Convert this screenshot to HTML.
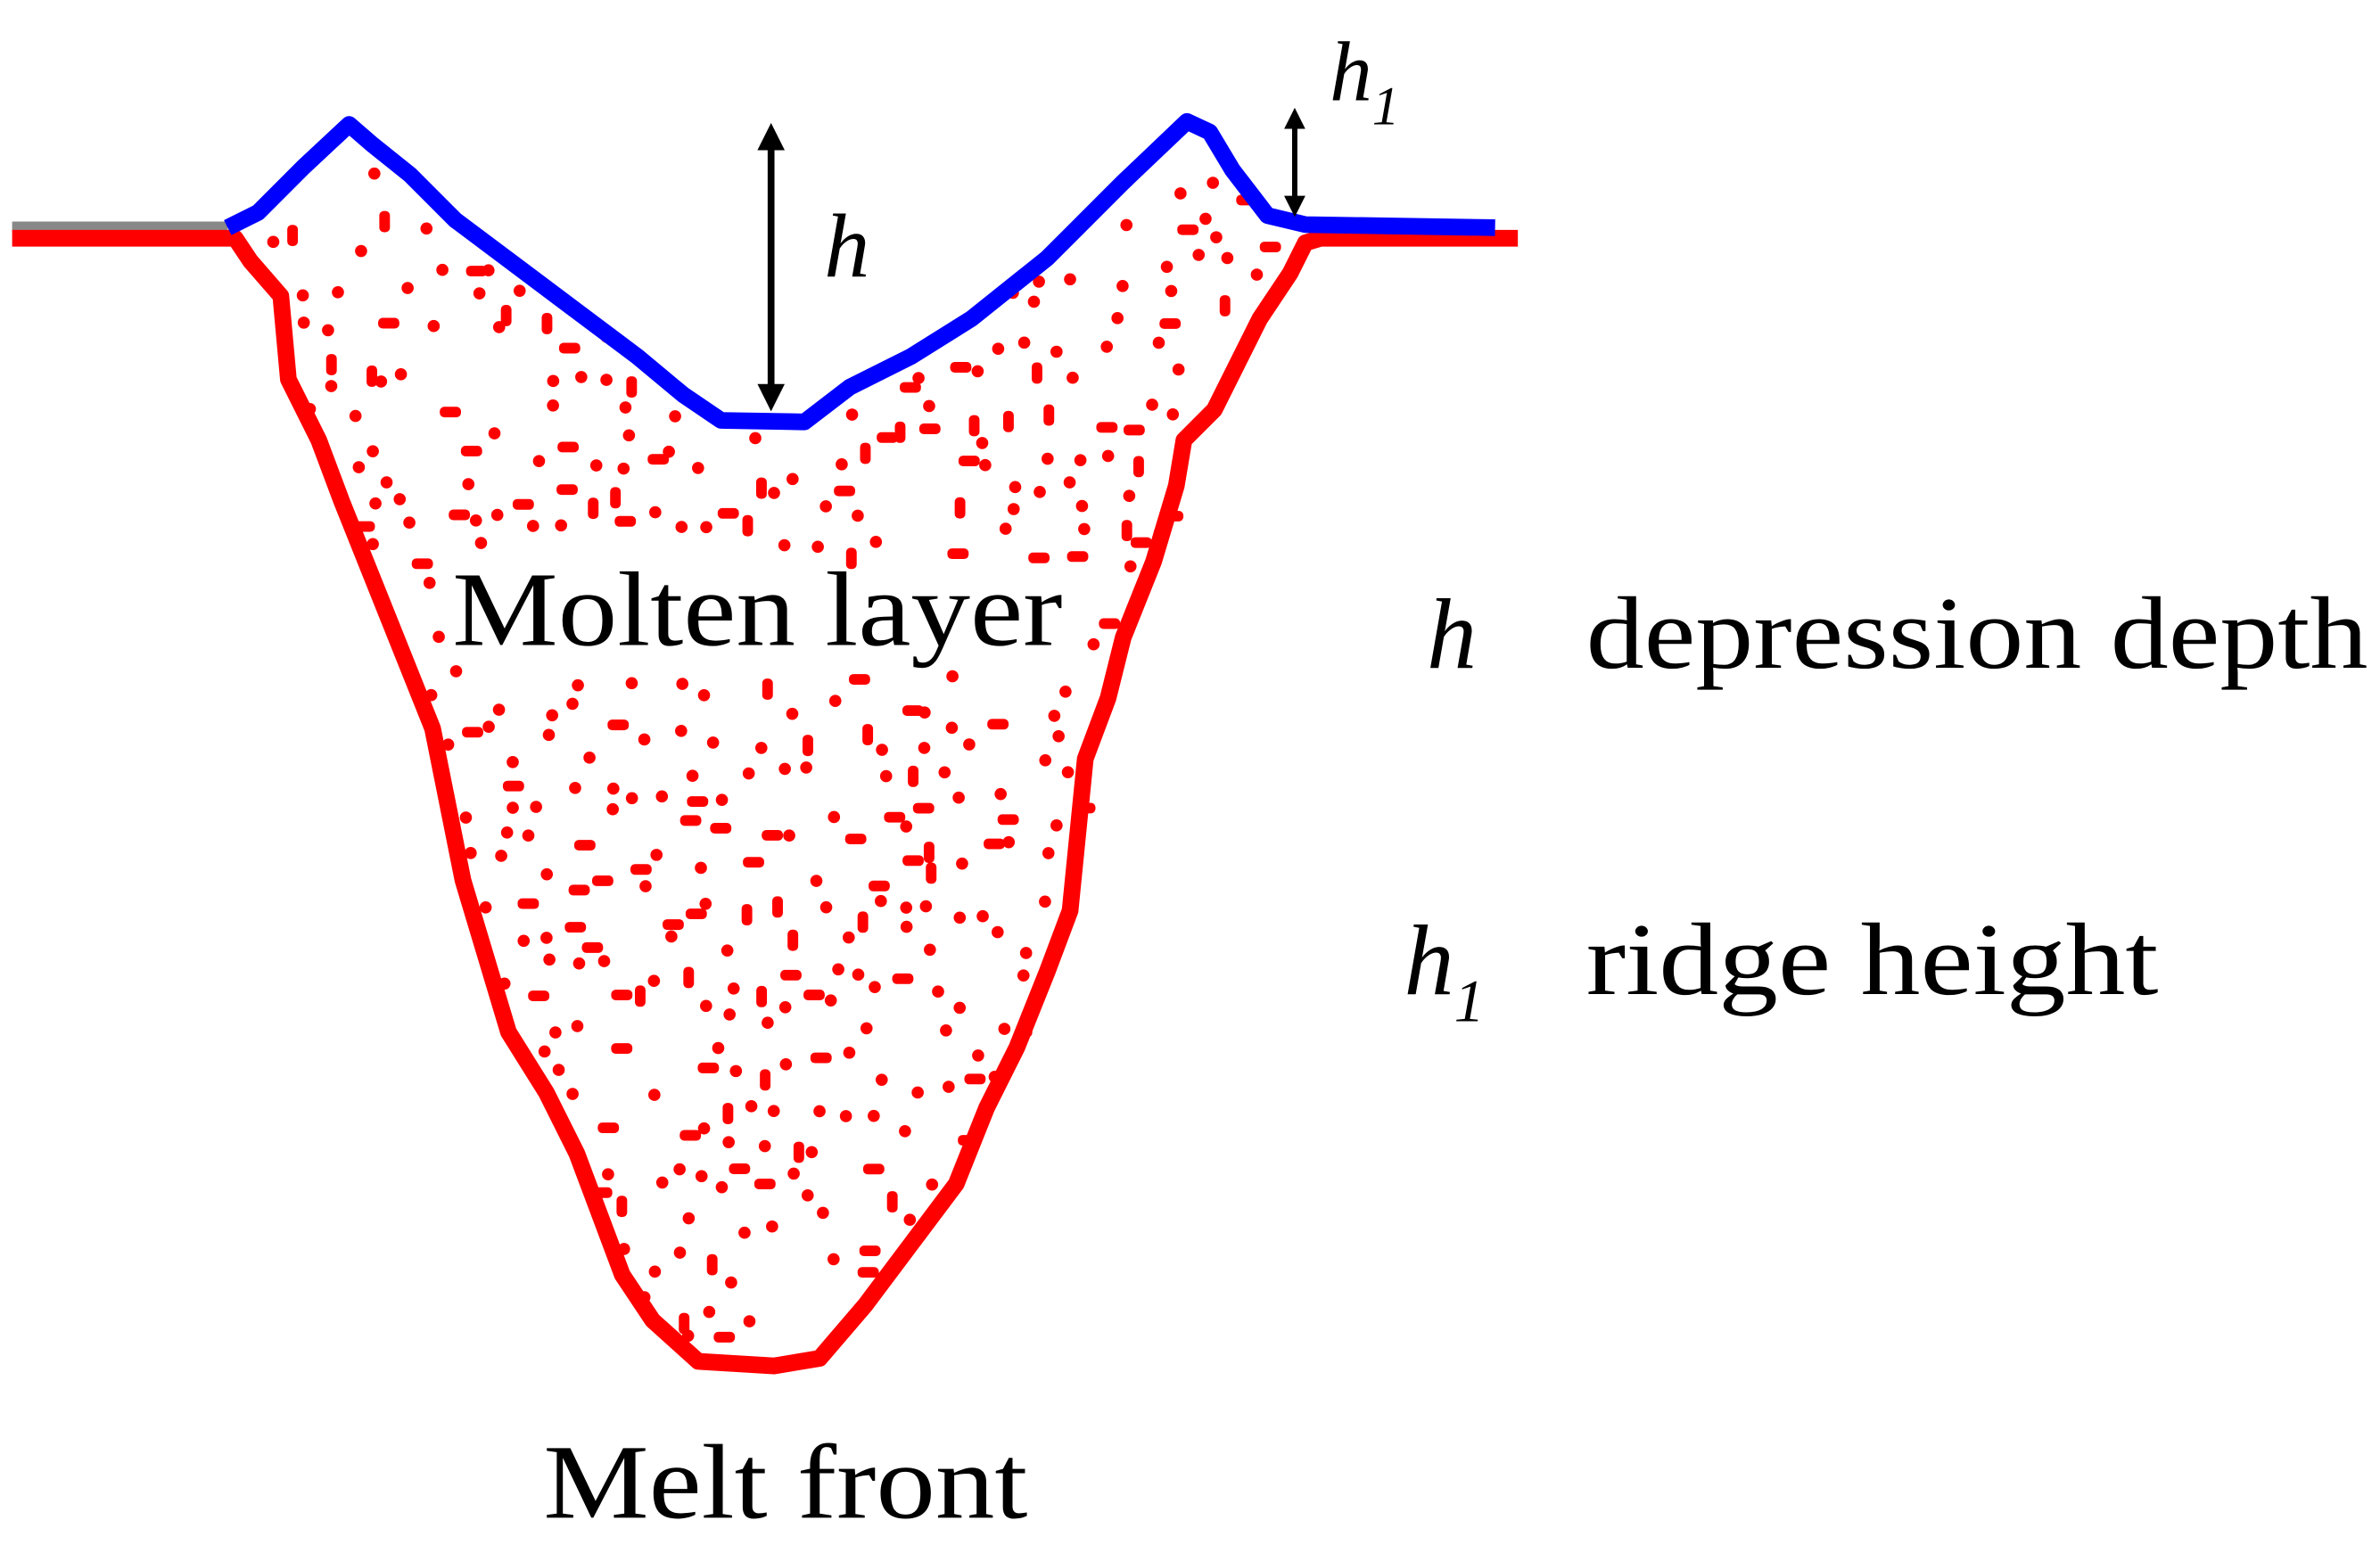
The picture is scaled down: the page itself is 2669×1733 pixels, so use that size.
<!DOCTYPE html>
<html><head><meta charset="utf-8">
<style>
html,body{margin:0;padding:0;background:#fff;}
svg{display:block;}
text{font-family:"Liberation Serif",serif;fill:#000;}
</style></head>
<body>
<svg id="s" width="2669" height="1733" viewBox="0 0 1568 1018" preserveAspectRatio="none" xmlns="http://www.w3.org/2000/svg">
<defs>
<marker id="a" viewBox="0 0 10 10" refX="5" refY="5" markerWidth="4" markerHeight="4" orient="auto-start-reverse"><path d="M0,0 L10,5 L0,10 z" fill="#000"/></marker>
</defs>
<line x1="8" y1="149" x2="150" y2="149" stroke="#888" stroke-width="6"/>
<g id="dots" fill="#ff0000"></g>
<polyline id="red" fill="none" stroke="#ff0000" stroke-width="11" stroke-linejoin="round"
points="8,157 155,157 165,172 185,195 190,250 210,290 225,330 245,380 265,430 285,480 295,530 305,580 320,630 335,680 360,720 380,760 395,800 410,840 430,870 460,897 510,900 540,895 570,860 600,820 630,780 650,730 670,690 690,640 705,600 710,550 715,500 730,460 740,420 760,370 775,320 780,290 800,270 815,240 830,210 850,180 860,160 870,157 1000,157"/>
<polyline fill="none" stroke="#0000ff" stroke-width="11" stroke-linejoin="round"
points="150,150 170,140 200,110 230,82 245,95 270,115 300,145 340,175 380,205 420,235 450,260 475,277 530,278 560,255 600,235 640,210 690,170 740,120 782,80 797,87 812,112 835,142 860,148 985,150"/>
<line x1="508" y1="90" x2="508" y2="262" stroke="#000" stroke-width="4.5" marker-start="url(#a)" marker-end="url(#a)"/>
<line x1="853" y1="78" x2="853" y2="136" stroke="#000" stroke-width="3.5" marker-start="url(#a)" marker-end="url(#a)"/>
<text x="543" y="182" font-size="60" font-style="italic">h</text>
<text x="876" y="66" font-size="56" font-style="italic">h<tspan font-size="36" dy="16">1</tspan></text>
<text x="298" y="425" font-size="70" textLength="402" lengthAdjust="spacingAndGlyphs">Molten layer</text>
<text x="358" y="1000" font-size="70" textLength="319" lengthAdjust="spacingAndGlyphs">Melt front</text>
<text x="940" y="440" font-size="66" font-style="italic">h</text>
<text x="1045" y="440" font-size="68" textLength="515" lengthAdjust="spacingAndGlyphs">depression depth</text>
<text x="925" y="655" font-size="66" font-style="italic">h<tspan font-size="40" dy="18">1</tspan></text>
<text x="1045" y="655" font-size="68" textLength="377" lengthAdjust="spacingAndGlyphs">ridge height</text>
</svg>
<script>
(function(){
var red=[[155,157],[165,172],[185,195],[190,250],[210,290],[225,330],[245,380],[265,430],[285,480],[295,530],[305,580],[320,630],[335,680],[360,720],[380,760],[395,800],[410,840],[430,870],[460,897],[510,900],[540,895],[570,860],[600,820],[630,780],[650,730],[670,690],[690,640],[705,600],[710,550],[715,500],[730,460],[740,420],[760,370],[775,320],[780,290],[800,270],[815,240],[830,210],[850,180],[860,160]];
var blue=[[835,142],[812,112],[797,87],[782,80],[740,120],[690,170],[640,210],[600,235],[560,255],[530,278],[475,277],[450,260],[420,235],[380,205],[340,175],[300,145],[270,115],[245,95],[230,82],[200,110],[170,140]];
var poly=red.concat(blue);
function inside(x,y){var c=false;for(var i=0,j=poly.length-1;i<poly.length;j=i++){var xi=poly[i][0],yi=poly[i][1],xj=poly[j][0],yj=poly[j][1];if(((yi>y)!=(yj>y))&&(x<(xj-xi)*(y-yi)/(yj-yi)+xi))c=!c;}return c;}
var seed=12345;function r(){seed=(seed*16807)%2147483647;return seed/2147483647;}
var g=document.getElementById('dots'),n=0,tries=0,ns='http://www.w3.org/2000/svg',pts=[];
while(n<380&&tries<40000){tries++;var x=170+r()*680,y=100+r()*790;
if(y>365&&y<440&&x>290&&x<710)continue;
if(!inside(x,y))continue;
var ok=true;for(var k=0;k<poly.length;k++){var dx=poly[k][0]-x,dy=poly[k][1]-y;if(dx*dx+dy*dy<200){ok=false;break;}}
for(var m=0;m<pts.length&&ok;m++){var ex=pts[m][0]-x,ey=pts[m][1]-y;if(ex*ex+ey*ey<160)ok=false;}
if(!ok)continue;pts.push([x,y]);
var e;if(r()<0.3){e=document.createElementNS(ns,'rect');var w=r()<0.6;e.setAttribute('x',x);e.setAttribute('y',y);e.setAttribute('width',w?14:7);e.setAttribute('height',w?7:14);e.setAttribute('rx',3);}
else{e=document.createElementNS(ns,'circle');e.setAttribute('cx',x);e.setAttribute('cy',y);e.setAttribute('r',4);}
g.appendChild(e);n++;}
})();
</script>
</body></html>
